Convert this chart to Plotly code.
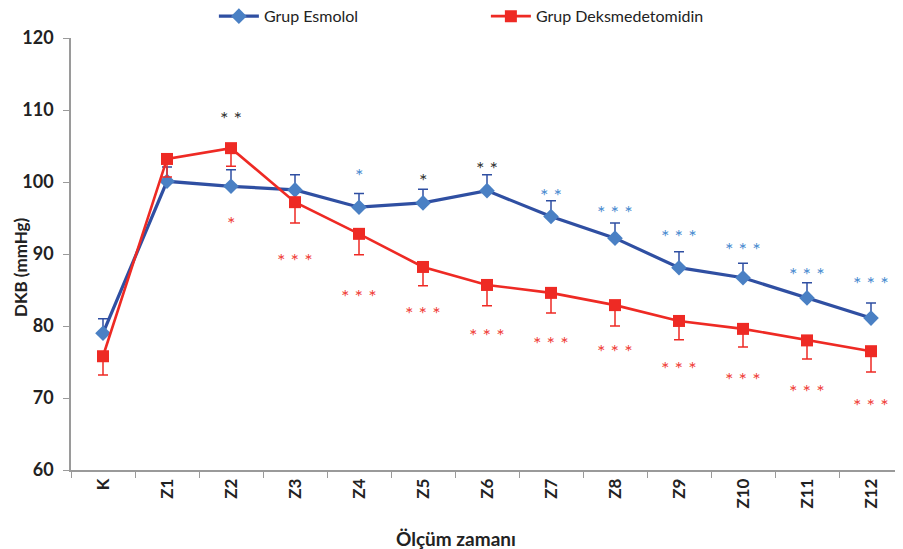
import plotly.graph_objects as go

categories = ["K", "Z1", "Z2", "Z3", "Z4", "Z5", "Z6", "Z7", "Z8", "Z9", "Z10", "Z11", "Z12"]
esmolol = [79.0, 100.1, 99.4, 98.9, 96.5, 97.1, 98.8, 95.2, 92.2, 88.1, 86.7, 83.9, 81.1]
esmolol_err = [2.0, 2.0, 2.3, 2.1, 1.9, 1.9, 2.2, 2.2, 2.1, 2.2, 2.0, 2.1, 2.1]
deks = [75.8, 103.2, 104.7, 97.2, 92.8, 88.2, 85.7, 84.6, 82.9, 80.7, 79.6, 78.0, 76.5]
deks_err = [2.6, 2.5, 2.5, 2.9, 2.9, 2.6, 2.9, 2.8, 2.9, 2.6, 2.5, 2.6, 2.9]

# significance marks: (category, y, text, colour key)
sig_cat = ["Z2", "Z2", "Z3", "Z4", "Z4", "Z5", "Z5", "Z6", "Z6", "Z7", "Z7", "Z8", "Z8",
           "Z9", "Z9", "Z10", "Z10", "Z11", "Z11", "Z12", "Z12"]
sig_y = [109.6, 95.0, 89.9, 101.7, 84.9, 101.0, 82.5, 102.6, 79.4, 98.9, 78.3, 96.5, 77.2,
         93.2, 74.9, 91.4, 73.3, 87.9, 71.7, 86.7, 69.7]
sig_text = ["**", "*", "***", "*", "***", "*", "***", "**", "***", "**", "***", "***", "***",
            "***", "***", "***", "***", "***", "***", "***", "***"]
sig_col = ["k", "r", "r", "b", "r", "k", "r", "k", "r", "b", "r", "b", "r",
           "b", "r", "b", "r", "b", "r", "b", "r"]

BLUE_LINE = "#2F4FA2"
BLUE_MARK = "#4A80C4"
RED = "#EE2A24"
col_map = {"k": "#333333", "r": "#F0413A", "b": "#4A8BD0"}

FONT = "Lato"

fig = go.Figure()
fig.add_trace(go.Scatter(
    x=categories, y=esmolol, name="Grup Esmolol", mode="lines+markers",
    line=dict(color=BLUE_LINE, width=3.2),
    marker=dict(symbol="diamond", size=12, color=BLUE_MARK),
    error_y=dict(type="data", array=esmolol_err, arrayminus=[0] * len(esmolol_err),
                 symmetric=False, color=BLUE_LINE, thickness=1.5, width=5),
))
fig.add_trace(go.Scatter(
    x=categories, y=deks, name="Grup Deksmedetomidin", mode="lines+markers",
    line=dict(color=RED, width=2.6),
    marker=dict(symbol="square", size=12, color=RED),
    error_y=dict(type="data", array=[0] * len(deks_err), arrayminus=deks_err,
                 symmetric=False, color=RED, thickness=1.5, width=5),
))

for c, y, t, k in zip(sig_cat, sig_y, sig_text, sig_col):
    fig.add_annotation(x=c, y=y, xref="x", yref="y", text=" ".join(t), showarrow=False,
                       font=dict(family=FONT, size=20, color=col_map[k]),
                       yanchor="middle", yshift=-5)

# axis titles
fig.add_annotation(x=-0.060, y=0.47, xref="paper", yref="paper", text="<b>DKB (mmHg)</b>",
                   textangle=-90, showarrow=False, xanchor="center", yanchor="middle",
                   font=dict(family=FONT, size=17, color="#222222"))
fig.add_annotation(x=0.4627, y=-0.158, xref="paper", yref="paper", text="<b>Ölçüm zamanı</b>",
                   showarrow=False, xanchor="center", yanchor="middle",
                   font=dict(family=FONT, size=19, color="#222222"))

fig.update_layout(
    width=903, height=549,
    margin=dict(l=63, r=8, t=30, b=87, autoexpand=False),
    paper_bgcolor="white", plot_bgcolor="white",
    font=dict(family=FONT, color="#222222"),
    showlegend=True,
    legend=dict(orientation="h", xref="container", yref="container",
                x=0.228, y=0.985, xanchor="left", yanchor="middle",
                font=dict(family=FONT, size=16, color="#222222"),
                entrywidth=217, entrywidthmode="pixels", itemwidth=40,
                bgcolor="rgba(0,0,0,0)"),
    xaxis=dict(
        type="category", categoryorder="array", categoryarray=categories,
        range=[-0.5, 12.5], showgrid=False, zeroline=False,
        showline=True, linecolor="#9a9a9a", linewidth=1.5,
        ticks="outside", tickson="boundaries", ticklen=6, tickcolor="#9a9a9a",
        tickangle=-90, tickfont=dict(family=FONT, size=17, color="#222222", weight="bold"),
    ),
    yaxis=dict(
        range=[60, 120], dtick=10, showgrid=False, zeroline=False,
        showline=True, linecolor="#9a9a9a", linewidth=1.5,
        ticks="outside", ticklen=6, tickcolor="#9a9a9a", ticklabelstandoff=6,
        tickfont=dict(family=FONT, size=18, color="#222222", weight="bold"),
    ),
)

fig.write_html("out.html")
